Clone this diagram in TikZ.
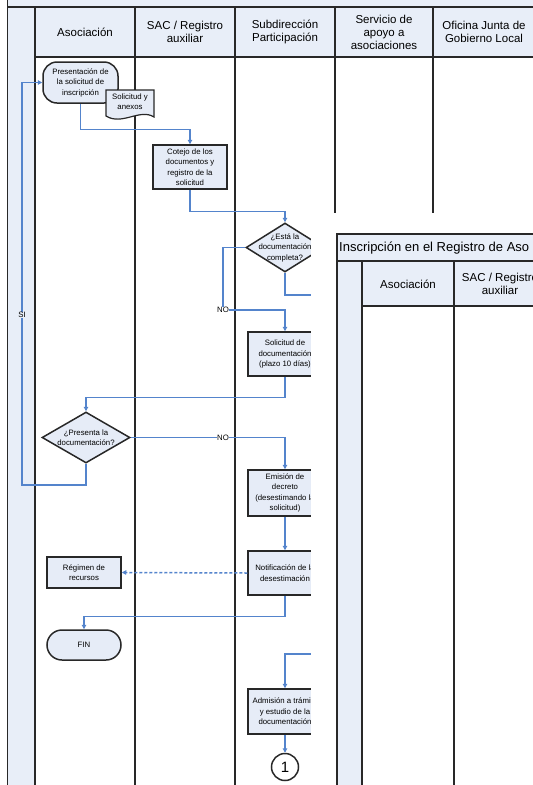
\documentclass[tikz,border=0pt]{standalone}
\usepackage{fontspec}
\setmainfont{Liberation Sans}
\usetikzlibrary{shapes.geometric,arrows.meta,calc}
\definecolor{lanefill}{RGB}{232,238,248}
\definecolor{boxfill}{RGB}{230,236,247}
\definecolor{flowc}{RGB}{84,132,204}
\definecolor{edgec}{RGB}{40,40,40}
\begin{document}
\begin{tikzpicture}[x=1pt,y=-1pt,
  lane/.style={draw=edgec,line width=1.2pt},
  hdr/.style={align=center,font=\fontsize{11.5}{13}\selectfont,inner sep=0pt},
  small/.style={font=\fontsize{7.8}{10.5}\selectfont,align=center},
  proc/.style={small,draw=edgec,line width=1.5pt,fill=boxfill,minimum width=74pt,minimum height=44pt,inner sep=1pt},
  term/.style={small,draw=edgec,line width=1.5pt,fill=boxfill,rounded corners=14pt,inner sep=1pt},
  decision/.style={diamond,draw=edgec,line width=1.5pt,fill=boxfill,inner sep=0pt},
  flow/.style={draw=flowc,line width=1.5pt,-{Triangle[length=4.5pt,width=4.5pt]}},
  flowline/.style={draw=flowc,line width=1.5pt},
  lbl/.style={font=\fontsize{7.8}{9}\selectfont,inner sep=0.6pt,fill=white}
]
\useasboundingbox (0,0) rectangle (533,785);
\clip (0,0) rectangle (533,785);
% background swimlanes
\fill[lanefill] (8,-5) rectangle (545,57);
\fill[lanefill] (8,57) rectangle (35,795);
\draw[lane] (7.5,-5) -- (7.5,795);
\draw[lane] (7.5,7) -- (545,7);
\draw[lane] (35,7) -- (35,795);
\draw[lane] (35,57) -- (545,57);
\draw[lane] (135,7) -- (135,795);
\draw[lane] (235,7) -- (235,795);
\draw[lane] (335,7) -- (335,213);
\draw[lane] (433,7) -- (433,213);
\node[hdr] (h1) at (85,32) {Asociación};
\node[hdr] (h2) at (185,32) {SAC / Registro\\auxiliar};
\node[hdr] (h3) at (285,32) {Subdirección\\Participación};
\node[hdr] (h4) at (384,32) {Servicio de\\apoyo a\\asociaciones};
\node[hdr] (h5) at (484,32) {Oficina Junta de\\Gobierno Local};
% nodes
\node[term,minimum width=75pt,minimum height=41pt] (pres) at (80.5,82.5) {Presentación de\\la solicitud de\\inscripción};
\filldraw[fill=boxfill,draw=edgec,line width=1.2pt] (106,90) -- (154,90) -- (154,117) .. controls (140,108) and (122,126) .. (106,116) -- cycle;
\node[small,inner sep=0pt] (doc) at (130,101.5) {Solicitud y\\anexos};
\node[proc] (cot) at (190,167) {Cotejo de los\\documentos y\\registro de la\\solicitud};
\node[decision,minimum width=78pt,minimum height=49pt,label={[small]center:{¿Está la\\documentación\\completa?}}] (d1) at (285,247.5) {};
\node[proc] (sol) at (285,354) {Solicitud de\\documentación\\(plazo 10 días)};
\node[decision,minimum width=88pt,minimum height=51pt,label={[small]center:{¿Presenta la\\documentación?}}] (d2) at (86,437.5) {};
\node[proc,minimum height=46pt] (emi) at (285,493) {Emisión de\\decreto\\(desestimando la\\solicitud)};
\node[proc] (notif) at (285,573) {Notificación de la\\desestimación};
\node[proc,minimum height=31pt] (reg) at (84,572.5) {Régimen de\\recursos};
\node[term,minimum width=74pt,minimum height=30pt,rounded corners=15pt] (fin) at (84,645) {FIN};
\node[proc,minimum height=45pt] (adm) at (285,711.5) {Admisión a trámite\\y estudio de la\\documentación};
\node[circle,draw=edgec,line width=1.5pt,fill=white,minimum size=27pt,inner sep=0pt,font=\fontsize{15}{15}\selectfont] (one) at (285,767) {1};
% free ends
\coordinate (no1) at (223,310);
\coordinate (si1) at (22,485);
\coordinate (yesend) at (345,295);
\coordinate (admsrc) at (345,654);
% connectors
\draw[flow] (pres.south) |- ($(cot.north)+(0,-15)$) -- (cot.north);
\draw[flow] (cot.south) |- ($(d1.north)+(0,-11)$) -- (d1.north);
\draw[flow] (d1.west) -| (no1) -| (sol.north);
\draw[flowline] (d1.south) |- (yesend);
\draw[flow] (sol.south) |- ($(d2.north)+(0,-14)$) -- (d2.north);
\draw[flow] (d2.east) -| (emi.north);
\draw[flow] (d2.south) |- (si1) |- (pres.west);
\draw[flow] (emi.south) -- (notif.north);
\draw[flow,dash pattern=on 3pt off 2pt] (notif.west) -- (reg.east);
\draw[flow] (notif.south) |- ($(fin.north)+(0,-13)$) -- (fin.north);
\draw[flow] (admsrc) -| (adm.north);
\draw[flow] (adm.south) -- (one.north);
% labels
\node[lbl] (nolbl1) at (no1) {NO};
\node[lbl] (nolbl2) at (223,437.5) {NO};
\node[lbl,fill=lanefill] (silbl) at (22,315) {SI};
% overlay window
\fill[white] (311,213) rectangle (545,795);
\fill[lanefill] (337,234) rectangle (545,306);
\fill[lanefill] (337,261) rectangle (362,795);
\draw[lane] (545,234) -- (337,234) -- (337,795);
\draw[lane] (337,261) -- (545,261);
\draw[lane] (362,261) -- (362,795);
\draw[lane] (362,306) -- (545,306);
\draw[lane] (454,261) -- (454,795);
\node[anchor=west,inner sep=0pt,font=\fontsize{13}{15}\selectfont] (otitle) at (339,248) {Inscripción en el Registro de Aso};
\node[hdr] (o1) at (408,284) {Asociación};
\node[hdr] (o2) at (500,284) {SAC / Registro\\auxiliar};
\end{tikzpicture}
\end{document}
